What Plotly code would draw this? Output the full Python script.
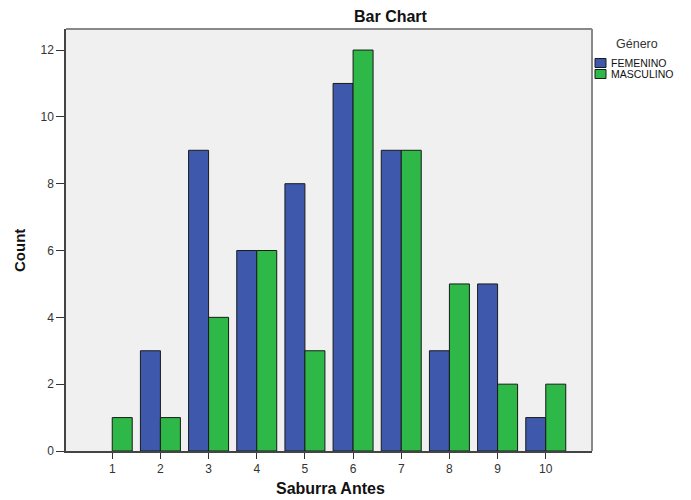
import plotly.graph_objects as go

categories = [1, 2, 3, 4, 5, 6, 7, 8, 9, 10]
femenino = [0, 3, 9, 6, 8, 11, 9, 3, 5, 1]
masculino = [1, 1, 4, 6, 3, 12, 9, 5, 2, 2]
y_ticks = [0, 2, 4, 6, 8, 10, 12]
series_names = ["FEMENINO", "MASCULINO"]
series_colors = ["#3E58AC", "#2EB848"]

FONT = "Liberation Sans, Arial, sans-serif"
OFF = 8  # page body margin
PAGE_W, PAGE_H = 691, 500
# plot area in page pixels
PX0, PX1, PY0, PY1 = 66, 592, 29, 451
W, H = PAGE_W - OFF, PAGE_H - OFF
L, T = PX0 - OFF, PY0 - OFF
R, B = PAGE_W - PX1, PAGE_H - PY1
PW, PH = PX1 - PX0, PY1 - PY0


def px_x(px):
    return (px - PX0) / PW


def px_y(py):
    return (PY1 - py) / PH


fig = go.Figure()
for name, vals, col in zip(series_names, [femenino, masculino], series_colors):
    fig.add_trace(go.Bar(x=categories, y=vals, name=name,
                         marker=dict(color=col,
                                     line=dict(color="#1a1a1a",
                                               width=[0 if v == 0 else 1 for v in vals]))))

annotations = [
    dict(text="<b>Bar Chart</b>", xref="paper", yref="paper",
         x=px_x(391), y=px_y(16), xanchor="center", yanchor="middle",
         showarrow=False, font=dict(size=16, family=FONT, color="#111")),
    dict(text="<b>Saburra Antes</b>", xref="paper", yref="paper",
         x=px_x(330), y=px_y(488), xanchor="center", yanchor="middle",
         showarrow=False, font=dict(size=16, family=FONT, color="#111")),
    dict(text="<b>Count</b>", xref="paper", yref="paper",
         x=px_x(19), y=px_y(251), xanchor="center", yanchor="middle", textangle=-90,
         showarrow=False, font=dict(size=15, family=FONT, color="#111")),
    dict(text="Género", xref="paper", yref="paper",
         x=px_x(637), y=px_y(44), xanchor="center", yanchor="middle",
         showarrow=False, font=dict(size=12.5, family=FONT, color="#333")),
]
shapes = [
    dict(type="line", xref="paper", yref="paper", x0=0, x1=1, y0=1, y1=1,
         line=dict(color="#888", width=2)),
    dict(type="line", xref="paper", yref="paper", x0=1, x1=1, y0=0, y1=1,
         line=dict(color="#888", width=2)),
]
legend_rows = [63, 74]
for name, col, yc in zip(series_names, series_colors, legend_rows):
    shapes.append(dict(type="rect", xref="paper", yref="paper",
                       x0=px_x(595), x1=px_x(606), y0=px_y(yc + 4.5), y1=px_y(yc - 4.5),
                       fillcolor=col, line=dict(color="#1a1a1a", width=1)))
    annotations.append(dict(text=name, xref="paper", yref="paper",
                            x=px_x(609), y=px_y(yc), xanchor="left", yanchor="middle",
                            showarrow=False, font=dict(size=10.5, family=FONT, color="#111")))

fig.update_layout(
    width=W, height=H,
    margin=dict(l=L, r=R, t=T, b=B),
    paper_bgcolor="white",
    plot_bgcolor="#F0F0F0",
    barmode="group",
    bargap=0.17,
    bargroupgap=0,
    showlegend=False,
    font=dict(family=FONT, color="#222"),
    xaxis=dict(
        range=[0.04, 10.96], automargin=False,
        tickmode="array", tickvals=categories,
        ticktext=[str(c) for c in categories],
        ticks="outside", ticklen=6, tickcolor="#333",
        tickfont=dict(size=12, color="#333"),
        showline=True, linecolor="#444", linewidth=1.5,
        showgrid=False, zeroline=False,
    ),
    yaxis=dict(
        range=[0, 12.63], automargin=False,
        tickmode="array", tickvals=y_ticks,
        ticks="outside", ticklen=8, tickcolor="#333",
        tickfont=dict(size=12, color="#333"),
        showline=True, linecolor="#444", linewidth=1.5,
        showgrid=False, zeroline=False,
    ),
    annotations=annotations,
    shapes=shapes,
)

fig.write_html("out.html")
